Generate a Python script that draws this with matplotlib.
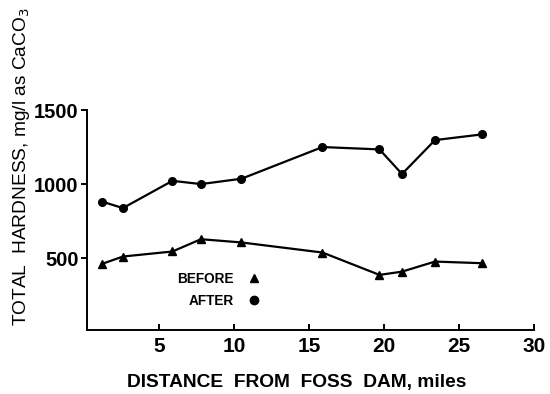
import matplotlib
matplotlib.use('Agg')
import matplotlib.pyplot as plt
from matplotlib.lines import Line2D

plt.rcParams['font.family'] = ['Liberation Sans', 'DejaVu Sans']

# distance from Foss Dam (miles) and total hardness (mg/l as CaCO3)
after_x = [1.2, 2.6, 5.9, 7.8, 10.5, 15.9, 19.7, 21.2, 23.4, 26.5]
after_y = [882, 838, 1022, 1000, 1036, 1250, 1234, 1068, 1297, 1335]
before_x = [1.2, 2.6, 5.9, 7.8, 10.5, 15.9, 19.7, 21.2, 23.4, 26.5]
before_y = [461, 511, 545, 628, 606, 538, 387, 409, 477, 466]

xticks = [5, 10, 15, 20, 25, 30]
yticks = [500, 1000, 1500]

fig = plt.figure(figsize=(5.5, 3.94), dpi=100)
ax = fig.add_axes([0.158, 0.1624, 0.813, 0.5584])

ax.plot(after_x, after_y, color='black', lw=1.6, marker='o', ms=5.5)
ax.plot(before_x, before_y, color='black', lw=1.6, marker='^', ms=5.5)

ax.set_xlim(0.2, 30)
ax.set_ylim(15, 1500)
ax.set_xticks(xticks)
ax.set_yticks(yticks)
ax.spines['top'].set_visible(False)
ax.spines['right'].set_visible(False)
for s in ['left', 'bottom']:
    ax.spines[s].set_linewidth(1.4)
ax.tick_params(axis='x', direction='in', length=4, width=1.4, pad=5, labelsize=15)
ax.tick_params(axis='y', direction='out', length=4, width=1.4, pad=2, labelsize=14.5)
for lab in ax.get_xticklabels() + ax.get_yticklabels():
    lab.set_fontweight('bold')

fig.text(0.54, 0.03, 'DISTANCE  FROM  FOSS  DAM, miles', ha='center', va='center',
         fontsize=13.8, fontweight='bold')
fig.text(0.04, 0.578, 'TOTAL  HARDNESS, mg/l as CaCO$_3$', rotation=90,
         ha='center', va='center', fontsize=13.8)

handles = [Line2D([], [], color='black', marker='^', ls='none', ms=6),
           Line2D([], [], color='black', marker='o', ls='none', ms=6)]
leg = fig.legend(handles, ['BEFORE', 'AFTER'], loc='center', markerfirst=False,
                 bbox_to_anchor=(0.398, 0.264), frameon=False, handlelength=1,
                 handletextpad=1.0, labelspacing=0.6,
                 prop={'size': 9.8, 'weight': 'bold'})
for t in leg.get_texts():
    t.set_ha('right')

fig.savefig('out.png')
